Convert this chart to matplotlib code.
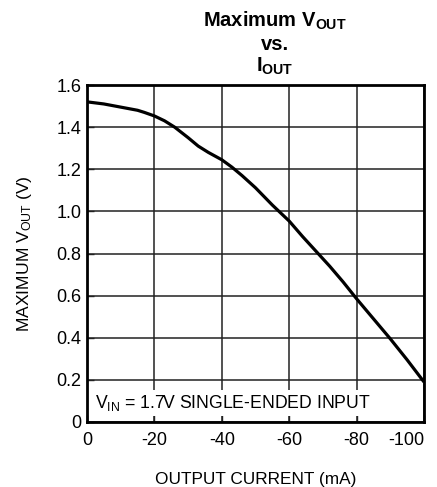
import numpy as np
import matplotlib.pyplot as plt

plt.rcParams['font.family'] = ['Liberation Sans', 'DejaVu Sans']
plt.rcParams['mathtext.default'] = 'regular'
plt.rcParams['axes.unicode_minus'] = False

# --- данные ---
i_out = [0, -5, -10, -15, -17, -20, -23, -26, -30, -33, -36, -40, -43, -46, -50,
         -55, -60, -64, -68, -72, -76, -80, -85, -90, -95, -100]
v_out = [1.52, 1.51, 1.495, 1.48, 1.47, 1.453, 1.43, 1.40, 1.35, 1.31, 1.28, 1.245, 1.21,
         1.17, 1.112, 1.03, 0.954, 0.88, 0.81, 0.74, 0.665, 0.585, 0.49, 0.395, 0.295, 0.19]

x_ticks = [0, -20, -40, -60, -80, -100]
x_ticklabels = ['0', '-20', '-40', '-60', '-80', '-100']
y_ticks = [0, 0.2, 0.4, 0.6, 0.8, 1.0, 1.2, 1.4, 1.6]
y_ticklabels = ['0', '0.2', '0.4', '0.6', '0.8', '1.0', '1.2', '1.4', '1.6']

fig = plt.figure(figsize=(4.37, 4.87), dpi=100)
ax = fig.add_axes([87 / 437, 1 - 422 / 487, 337 / 437, 337 / 487])

ax.plot(i_out, v_out, color='black', lw=2.3, zorder=4, solid_capstyle='butt')

ax.set_xlim(0, -100)
ax.set_ylim(0, 1.6)
ax.set_xticks(x_ticks)
ax.set_xticklabels(x_ticklabels)
ax.set_yticks(y_ticks)
ax.set_yticklabels(y_ticklabels)
ax.grid(True, color='#222222', lw=1.1)
ax.tick_params(direction='in', length=5, width=1, colors='#222222',
               labelsize=13, labelcolor='black', pad=4)
ax.tick_params(axis='x', pad=7)
ax.get_xticklabels()[-1].set_horizontalalignment('right')
for s in ax.spines.values():
    s.set_linewidth(2)
    s.set_zorder(5)

ax.text(-2.5, 0.065, 'V$_{IN}$ = 1.7V SINGLE-ENDED INPUT', fontsize=12.7,
        va='baseline', ha='left', zorder=3,
        bbox=dict(facecolor='white', edgecolor='none', pad=2))

ax.set_xlabel('OUTPUT CURRENT (mA)', fontsize=12.4, labelpad=17)
ax.set_ylabel('MAXIMUM V$_{OUT}$ (V)', fontsize=12.6, labelpad=16)

fig.text(275 / 437, 1 - 10 / 487, 'Maximum V$_{OUT}$\nvs.\nI$_{OUT}$',
         ha='center', va='top', fontsize=14.5, fontweight='bold', linespacing=1.15)

fig.savefig('out.png', dpi=100)
